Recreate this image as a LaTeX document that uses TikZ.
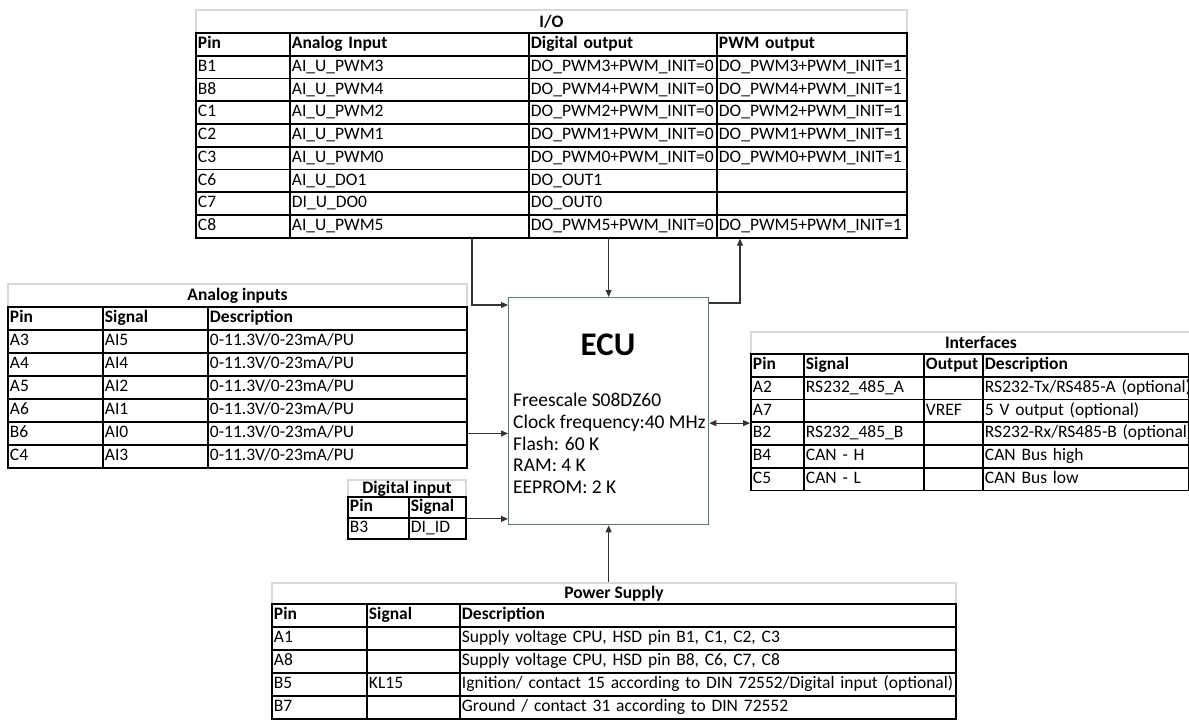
\documentclass[tikz,border=0pt]{standalone}
\usepackage{fontspec}
\setmainfont{Carlito}
\usetikzlibrary{arrows.meta}
\definecolor{ecugreen}{RGB}{88,128,100}
\newcommand\tabfont{\fontsize{17.5}{20}\selectfont}
\newcommand\ecufont{\fontsize{19.5}{21.7}\selectfont}

\begin{document}
\begin{tikzpicture}[x=1pt,y=-1pt,
  cell/.style={draw,line width=1.9pt,anchor=north west,inner xsep=2pt,inner ysep=0pt,
    minimum height=22.75pt,text height=12.5pt,text depth=4pt,align=left,font=\tabfont},
  hd/.style={cell,font=\tabfont\bfseries},
  ttl/.style={draw=black!15,line width=1.9pt,anchor=north west,inner sep=0pt,font=\tabfont\bfseries},
  colw/.style={text width=#1},
  ecubox/.style={draw=ecugreen,line width=1.3pt,anchor=north west,inner sep=0pt},
  conn/.style={draw=black!80,line width=1.1pt,-{Triangle[length=7pt,width=6pt]}},
  dconn/.style={conn,{Triangle[length=7pt,width=6pt]}-{Triangle[length=7pt,width=6pt]}}]

\useasboundingbox (0,0) rectangle (1189,720);
\clip (0,0) rectangle (1189,720);

% I/O table.
\node[ttl,minimum width=711pt,minimum height=23pt] (io-title) at (195,9) {I/O};
\node[hd,colw=90pt]  (io-hp) at (195,32) {Pin};
\node[hd,colw=235pt] (io-ha) at (289,32) {Analog Input};
\node[hd,colw=184pt] (io-hd) at (528,32) {Digital output};
\node[hd,colw=186pt] (io-hw) at (716,32) {PWM output};
\foreach \p/\a/\d/\w [count=\i] in {
  B1/AI\_U\_PWM3/DO\_PWM3+PWM\_INIT=0/DO\_PWM3+PWM\_INIT=1,
  B8/AI\_U\_PWM4/DO\_PWM4+PWM\_INIT=0/DO\_PWM4+PWM\_INIT=1,
  C1/AI\_U\_PWM2/DO\_PWM2+PWM\_INIT=0/DO\_PWM2+PWM\_INIT=1,
  C2/AI\_U\_PWM1/DO\_PWM1+PWM\_INIT=0/DO\_PWM1+PWM\_INIT=1,
  C3/AI\_U\_PWM0/DO\_PWM0+PWM\_INIT=0/DO\_PWM0+PWM\_INIT=1,
  C6/AI\_U\_DO1/DO\_OUT1/{},
  C7/DI\_U\_DO0/DO\_OUT0/{},
  C8/AI\_U\_PWM5/DO\_PWM5+PWM\_INIT=0/DO\_PWM5+PWM\_INIT=1}{
  \node[cell,colw=90pt]  (io-p\i) at (195,{32+22.75*\i}) {\p};
  \node[cell,colw=235pt] (io-a\i) at (289,{32+22.75*\i}) {\a};
  \node[cell,colw=184pt] (io-d\i) at (528,{32+22.75*\i}) {\mbox{\d}};
  \node[cell,colw=186pt] (io-w\i) at (716,{32+22.75*\i}) {\mbox{\w}};
}

% Analog inputs.
\node[ttl,minimum width=459pt,minimum height=23pt] (an-title) at (7,283) {Analog inputs};
\node[hd,colw=91pt,minimum height=23pt]  (an-hp) at (7,306) {Pin};
\node[hd,colw=101pt,minimum height=23pt] (an-hs) at (102,306) {Signal};
\node[hd,colw=255pt,minimum height=23pt] (an-hd) at (207,306) {Description};
\foreach \p/\s [count=\i] in {A3/AI5,A4/AI4,A5/AI2,A6/AI1,B6/AI0,C4/AI3}{
  \node[cell,colw=91pt,minimum height=23pt]  (an-p\i) at (7,{306+23*\i}) {\p};
  \node[cell,colw=101pt,minimum height=23pt] (an-s\i) at (102,{306+23*\i}) {\s};
  \node[cell,colw=255pt,minimum height=23pt] (an-d\i) at (207,{306+23*\i}) {0-11.3V/0-23mA/PU};
}

% Digital input.
\node[ttl,minimum width=118pt,minimum height=17pt] (di-title) at (347,479) {Digital input};
\node[hd,colw=57pt,minimum height=21pt] (di-hp) at (347,496) {Pin};
\node[hd,colw=53pt,minimum height=21pt] (di-hs) at (408,496) {Signal};
\node[cell,colw=57pt,minimum height=21pt] (di-p1) at (347,517) {B3};
\node[cell,colw=53pt,minimum height=21pt] (di-s1) at (408,517) {DI\_ID};

% Interfaces.
\node[ttl,minimum width=460pt,minimum height=22pt] (if-title) at (750,331) {Interfaces};
\node[hd,colw=49pt]  (if-hp) at (750,353) {Pin};
\node[hd,colw=116pt] (if-hs) at (803,353) {Signal};
\node[hd,colw=55pt]  (if-ho) at (923,353) {Output};
\node[hd,colw=202pt] (if-hd) at (982,353) {Description};
\foreach \p/\s/\o/\d [count=\i] in {
  A2/RS232\_485\_A/{}/{RS232-Tx/RS485-A (optional)},
  A7/{}/VREF/{5 V output (optional)},
  B2/RS232\_485\_B/{}/{RS232-Rx/RS485-B (optional)},
  B4/CAN - H/{}/CAN Bus high,
  C5/CAN - L/{}/CAN Bus low}{
  \node[cell,colw=49pt]  (if-p\i) at (750,{353+22.75*\i}) {\p};
  \node[cell,colw=116pt] (if-s\i) at (803,{353+22.75*\i}) {\mbox{\s}};
  \node[cell,colw=55pt]  (if-o\i) at (923,{353+22.75*\i}) {\o};
  \node[cell,colw=202pt] (if-d\i) at (982,{353+22.75*\i}) {\mbox{\d}};
}

% Power supply.
\node[ttl,minimum width=684pt,minimum height=21pt] (ps-title) at (271,582) {Power Supply};
\node[hd,colw=91pt,minimum height=23pt]  (ps-hp) at (271,603) {Pin};
\node[hd,colw=89pt,minimum height=23pt]  (ps-hs) at (366,603) {Signal};
\node[hd,colw=492pt,minimum height=23pt] (ps-hd) at (459,603) {Description};
\foreach \p/\s/\d [count=\i] in {
  A1/{}/{Supply voltage CPU, HSD pin B1, C1, C2, C3},
  A8/{}/{Supply voltage CPU, HSD pin B8, C6, C7, C8},
  B5/KL15/{Ignition/ contact 15 according to DIN 72552/Digital input (optional)},
  B7/{}/{Ground / contact 31 according to DIN 72552}}{
  \node[cell,colw=91pt,minimum height=23pt]  (ps-p\i) at (271,{603+23*\i}) {\p};
  \node[cell,colw=89pt,minimum height=23pt]  (ps-s\i) at (366,{603+23*\i}) {\s};
  \node[cell,colw=492pt,minimum height=23pt] (ps-d\i) at (459,{603+23*\i}) {\mbox{\d}};
}

% ECU block.
\node[ecubox,minimum width=200pt,minimum height=227pt] (ecu) at (508,297) {};
\node[font=\fontsize{33}{36}\selectfont\bfseries] (ecu-name) at (608,345) {ECU};
\node[anchor=north west,inner sep=0pt,align=left,font=\ecufont] (ecu-info) at (513,393)
 {Freescale S08DZ60\\Clock frequency:40 MHz\\Flash: 60 K\\RAM: 4 K\\EEPROM: 2 K};

% Connectors.
\draw[conn] ([xshift=183pt]io-a8.south west) |- ([yshift=-8pt]ecu.north west);
\draw[conn] (io-d8.south -| ecu.north) -- (ecu.north);
\draw[conn] ([yshift=-6pt]ecu.north east) -| ([xshift=24pt]io-w8.south west);
\draw[conn] (an-d5.east) -- (an-d5.east -| ecu.west);
\draw[conn] (di-hs.south east) -- (di-hs.south east -| ecu.west);
\draw[dconn] (if-p2.south west -| ecu.east) -- (if-p2.south west);
\draw[conn] (ps-title.north -| ecu.south) -- (ecu.south);
\end{tikzpicture}
\end{document}
